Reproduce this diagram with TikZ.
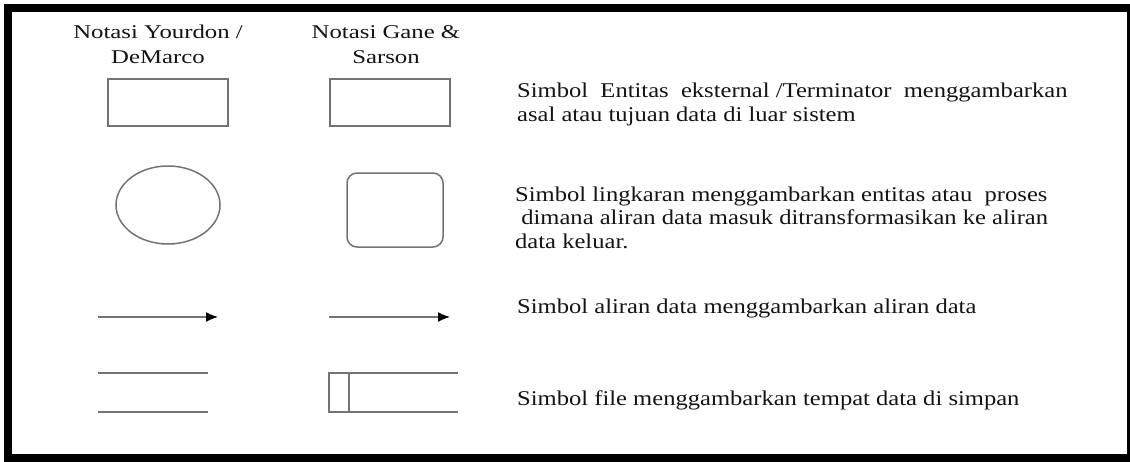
\documentclass[tikz,border=0pt]{standalone}
\usepackage{fontspec}
\setmainfont{Liberation Serif}[FakeStretch=1.17]
\newfontfamily\headfont{Liberation Serif}[FakeStretch=1.27]
\usetikzlibrary{shapes.geometric,arrows.meta}

\definecolor{symgray}{rgb}{0.45,0.45,0.45}
\definecolor{textgray}{rgb}{0.08,0.08,0.08}

\tikzset{
  simbol/.style={draw=symgray, line width=1.5pt},
  judul/.style={align=center, inner sep=0pt, anchor=base, text=textgray,
    font=\headfont\fontsize{19.5}{25}\selectfont},
  ket/.style={align=left, inner sep=0pt, anchor=base west, text=textgray,
    font=\fontsize{21}{23.5}\selectfont},
  aliran/.style={simbol, -{Latex[length=12pt,width=10pt,color=black]}}
}

\begin{document}
\begin{tikzpicture}[x=1pt,y=-1pt]
\useasboundingbox (0,0) rectangle (1130,461);
\fill[white] (0,0) rectangle (1130,461);
% bingkai
\draw[line width=8pt] (8,8) rectangle (1131,458);

% judul kolom (base = baris terakhir)
\node[judul] (yourdon) at (158,63) {Notasi Yourdon /\\DeMarco};
\node[judul] (gane) at (386,63) {Notasi Gane \&\\Sarson};

% entitas eksternal
\node[simbol, rectangle, minimum width=120pt, minimum height=47pt] (entitas1) at (168,102.5) {};
\node[simbol, rectangle, minimum width=120pt, minimum height=47pt] (entitas2) at (390,102.5) {};
\node[ket] (ketentitas) at (517,121) {Simbol~ Entitas~ eksternal /Terminator~ menggambarkan\\asal atau tujuan data di luar sistem};

% proses
\node[simbol, ellipse, minimum width=104pt, minimum height=78pt] (proses1) at (168,205) {};
\node[simbol, rectangle, rounded corners=10pt, minimum width=96pt, minimum height=74pt] (proses2) at (395,210) {};
\node[ket] (ketproses) at (515,248) {Simbol lingkaran menggambarkan entitas atau~ proses\\~dimana aliran data masuk ditransformasikan ke aliran\\data keluar.};

% aliran data
\coordinate (a1) at (98,317);
\coordinate (b1) at (218,317);
\coordinate (a2) at (329,317);
\coordinate (b2) at (450,317);
\draw[aliran] (a1) -- (b1);
\draw[aliran] (a2) -- (b2);
\node[ket] (ketaliran) at (517,313) {Simbol aliran data menggambarkan aliran data};

% simpanan data
\draw[simbol] (98,373) -- (208,373);
\draw[simbol] (98,412) -- (208,412);
\draw[simbol] (329,373) rectangle (349,412);
\draw[simbol] (349,373) -- (458,373);
\draw[simbol] (349,412) -- (458,412);
\node[ket] (ketfile) at (517,405) {Simbol file menggambarkan tempat data di simpan};
\end{tikzpicture}
\end{document}
